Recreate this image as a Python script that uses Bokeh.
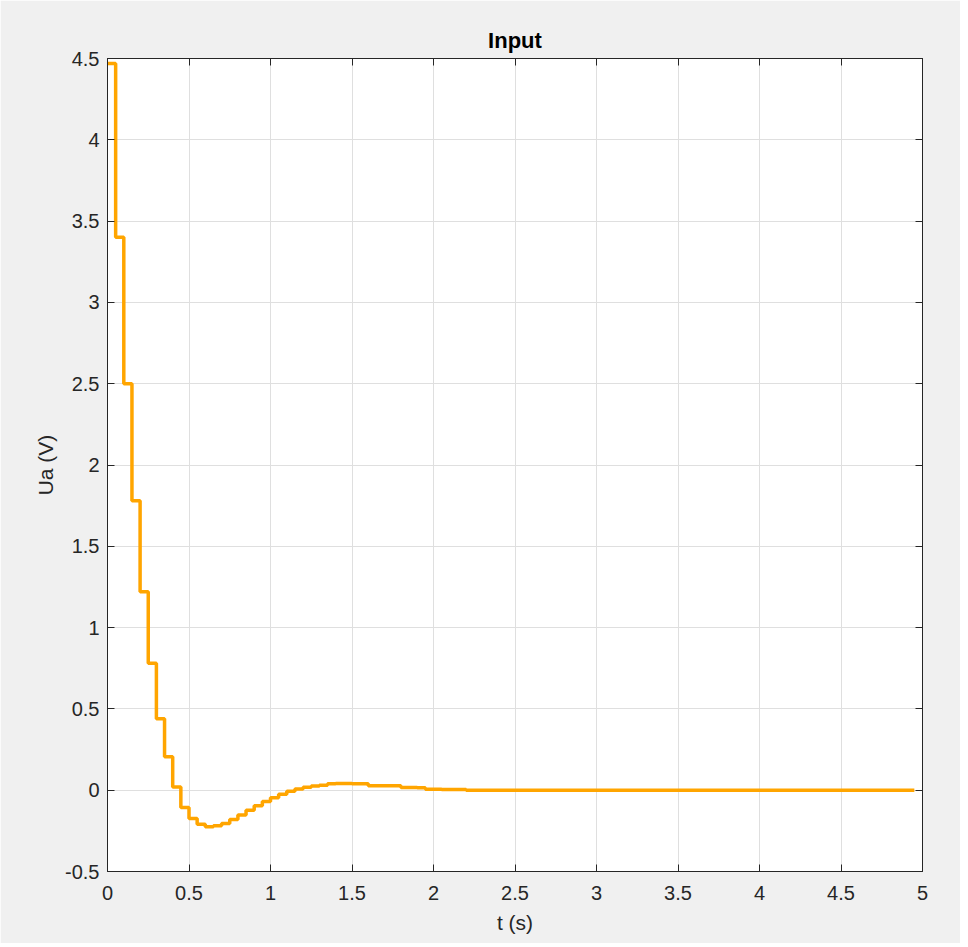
from bokeh.plotting import figure
from bokeh.models import Range1d, LinearAxis, FixedTicker
from bokeh.embed import file_html
from bokeh.resources import INLINE

# ---- data ----
t = [0.00, 0.05, 0.10, 0.15, 0.20, 0.25, 0.30, 0.35, 0.40, 0.45,
     0.50, 0.55, 0.60, 0.65, 0.70, 0.75, 0.80, 0.85, 0.90, 0.95,
     1.00, 1.05, 1.10, 1.15, 1.20, 1.25, 1.30, 1.35, 1.40, 1.45,
     1.50, 1.55, 1.60, 1.65, 1.70, 1.75, 1.80, 1.85, 1.90, 1.95,
     2.00, 2.05, 2.10, 2.15, 2.20, 2.25, 2.30, 2.35, 2.40, 2.45,
     2.50, 2.55, 2.60, 2.65, 2.70, 2.75, 2.80, 2.85, 2.90, 2.95,
     3.00, 3.05, 3.10, 3.15, 3.20, 3.25, 3.30, 3.35, 3.40, 3.45,
     3.50, 3.55, 3.60, 3.65, 3.70, 3.75, 3.80, 3.85, 3.90, 3.95,
     4.00, 4.05, 4.10, 4.15, 4.20, 4.25, 4.30, 4.35, 4.40, 4.45,
     4.50, 4.55, 4.60, 4.65, 4.70, 4.75, 4.80, 4.85, 4.90, 4.95]

ua = [4.47, 3.40, 2.50, 1.78, 1.22, 0.78, 0.44, 0.205, 0.02, -0.106,
      -0.174, -0.209, -0.225, -0.218, -0.205, -0.180, -0.153, -0.124, -0.096, -0.069,
      -0.046, -0.025, -0.007, 0.008, 0.018, 0.026, 0.031, 0.040, 0.041, 0.041,
      0.040, 0.040, 0.028, 0.028, 0.027, 0.027, 0.016, 0.016, 0.015, 0.006,
      0.006, 0.005, 0.005, 0.004, 0.0, 0.0, 0.0, 0.0, 0.0, 0.0,
      0.0, 0.0, 0.0, 0.0, 0.0, 0.0, 0.0, 0.0, 0.0, 0.0,
      0.0, 0.0, 0.0, 0.0, 0.0, 0.0, 0.0, 0.0, 0.0, 0.0,
      0.0, 0.0, 0.0, 0.0, 0.0, 0.0, 0.0, 0.0, 0.0, 0.0,
      0.0, 0.0, 0.0, 0.0, 0.0, 0.0, 0.0, 0.0, 0.0, 0.0,
      0.0, 0.0, 0.0, 0.0, 0.0, 0.0, 0.0, 0.0, 0.0, 0.0]

x_ticks = [0, 0.5, 1, 1.5, 2, 2.5, 3, 3.5, 4, 4.5, 5]
x_tick_labels = ["0", "0.5", "1", "1.5", "2", "2.5", "3", "3.5", "4", "4.5", "5"]
y_ticks = [-0.5, 0, 0.5, 1, 1.5, 2, 2.5, 3, 3.5, 4, 4.5]
y_tick_labels = ["-0.5", "0", "0.5", "1", "1.5", "2", "2.5", "3", "3.5", "4", "4.5"]

title_text = "Input"
x_label = "t (s)"
y_label = "Ua (V)"

# ---- styles ----
FONT = "Liberation Sans"
AX_COLOR = "#262626"
GRID_COLOR = "#dfdfdf"
LINE_COLOR = "#FFA500"

p = figure(width=960, height=943, output_backend="svg", toolbar_location=None,
           x_range=Range1d(0, 5), y_range=Range1d(-0.5, 4.5),
           min_border_left=107, min_border_right=38,
           min_border_top=58, min_border_bottom=72,
           background_fill_color="white", border_fill_color="#f0f0f0",
           title=title_text)

p.outline_line_color = AX_COLOR
p.outline_line_width = 1

p.title.align = "center"
p.title.text_font = FONT
p.title.text_font_size = "22px"
p.title.text_font_style = "bold"
p.title.text_color = "#000000"
p.title.standoff = 11


def style_axis(ax, ticks, labels, show_labels=True):
    ax.ticker = FixedTicker(ticks=ticks)
    ax.major_tick_in = 7
    ax.major_tick_out = 0
    ax.minor_tick_line_color = None
    ax.major_tick_line_color = AX_COLOR
    ax.axis_line_color = AX_COLOR
    if show_labels:
        ax.major_label_overrides = {tk: lb for tk, lb in zip(ticks, labels)}
        ax.major_label_text_font = FONT
        ax.major_label_text_font_size = "20px"
        ax.major_label_text_color = AX_COLOR
        ax.axis_label_text_font = FONT
        ax.axis_label_text_font_size = "21px"
        ax.axis_label_text_font_style = "normal"
        ax.axis_label_text_color = AX_COLOR
    else:
        ax.major_label_overrides = {tk: "" for tk in ticks}
        ax.major_label_text_font_size = "0px"
        ax.major_label_standoff = 0


style_axis(p.xaxis[0], x_ticks, x_tick_labels)
p.xaxis[0].axis_label = x_label
p.xaxis[0].major_label_standoff = 14
p.xaxis[0].axis_label_standoff = 8

style_axis(p.yaxis[0], y_ticks, y_tick_labels)
p.yaxis[0].axis_label = y_label
p.yaxis[0].major_label_standoff = 8
p.yaxis[0].axis_label_standoff = 5

top_ax = LinearAxis()
style_axis(top_ax, x_ticks, x_tick_labels, show_labels=False)
p.add_layout(top_ax, "above")

right_ax = LinearAxis()
style_axis(right_ax, y_ticks, y_tick_labels, show_labels=False)
p.add_layout(right_ax, "right")

p.xgrid.ticker = FixedTicker(ticks=x_ticks)
p.ygrid.ticker = FixedTicker(ticks=y_ticks)
p.xgrid.grid_line_color = GRID_COLOR
p.ygrid.grid_line_color = GRID_COLOR

p.step(t, ua, mode="after", line_color=LINE_COLOR, line_width=3.5)

open("out.html", "w").write(file_html(p, INLINE))
